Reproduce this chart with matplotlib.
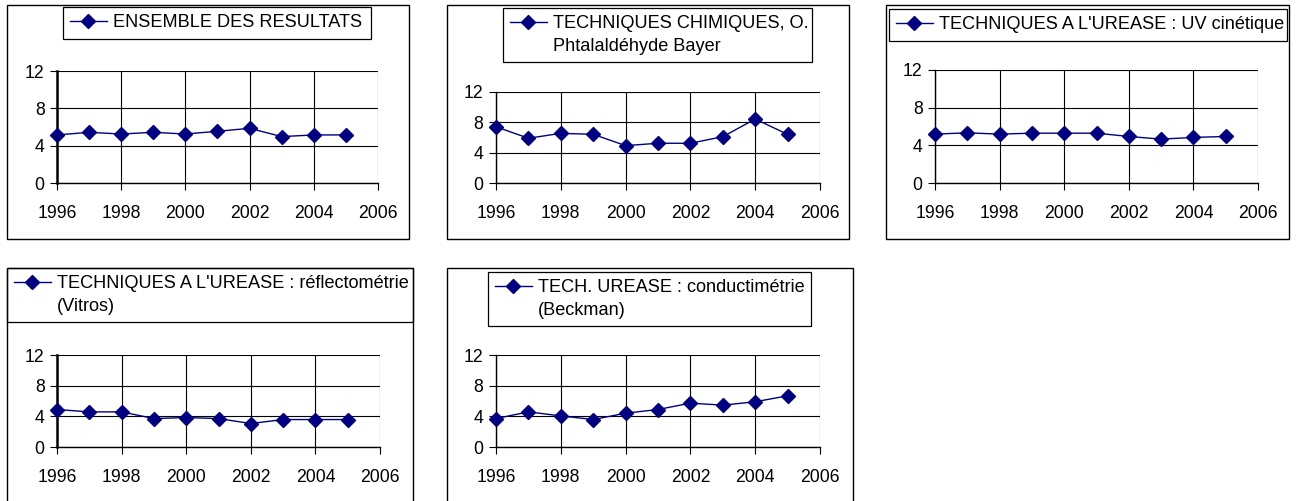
import matplotlib
matplotlib.use("Agg")
import matplotlib.pyplot as plt
from matplotlib.lines import Line2D
from matplotlib.patches import Rectangle

plt.rcParams['font.family'] = ['Liberation Sans', 'DejaVu Sans']

years = [1996, 1997, 1998, 1999, 2000, 2001, 2002, 2003, 2004, 2005]

ensemble = [5.15, 5.43, 5.25, 5.43, 5.25, 5.54, 5.86, 4.97, 5.15, 5.15]
chimiques = [7.42, 5.9, 6.55, 6.42, 4.93, 5.24, 5.24, 6.11, 8.43, 6.42]
uv_cinetique = [5.19, 5.33, 5.19, 5.29, 5.29, 5.29, 4.94, 4.66, 4.84, 4.94]
reflectometrie = [4.89, 4.58, 4.58, 3.71, 3.84, 3.71, 3.06, 3.58, 3.58, 3.58]
conductimetrie = [3.71, 4.58, 4.06, 3.58, 4.41, 4.89, 5.72, 5.46, 5.9, 6.68]

labels = [
    ["ENSEMBLE DES RESULTATS"],
    ["TECHNIQUES CHIMIQUES, O.", "Phtalaldéhyde Bayer"],
    ["TECHNIQUES A L'UREASE : UV cinétique"],
    ["TECHNIQUES A L'UREASE : réflectométrie", "(Vitros)"],
    ["TECH. UREASE : conductimétrie", "(Beckman)"],
]
series = [ensemble, chimiques, uv_cinetique, reflectometrie, conductimetrie]

x_ticks = [1996, 1998, 2000, 2002, 2004, 2006]
y_ticks = [0, 4, 8, 12]

W, H = 1298, 501
fig = plt.figure(figsize=(W / 100, H / 100), dpi=100)

# layout in pixels: frame, axes, legend box (x0, y0, x1, y1) from top-left
layout = [
    dict(frame=(7, 5, 409, 239), ax=(57, 71, 378, 183), leg=(63, 7, 371, 40), lw=1.8),
    dict(frame=(447, 5, 849, 239), ax=(496, 92, 820, 183), leg=(503, 8, 812, 62), lw=1.0),
    dict(frame=(886, 5, 1289, 239), ax=(935, 70, 1258, 183), leg=(889, 9, 1287, 40), lw=1.0),
    dict(frame=(7, 268, 413, 520), ax=(57, 355, 380, 447), leg=(7, 268, 413, 325), lw=1.8),
    dict(frame=(447, 268, 853, 520), ax=(496, 355, 820, 447), leg=(488, 272, 811, 325), lw=1.0),
]


def fx(x):
    return x / W


def fy(y):
    return 1 - y / H


navy = '#000080'

for spec, vals, lab in zip(layout, series, labels):
    x0, y0, x1, y1 = spec['frame']
    fig.patches.append(Rectangle((fx(x0), fy(y1)), fx(x1 - x0), (y1 - y0) / H,
                                 transform=fig.transFigure, fill=False,
                                 edgecolor='black', linewidth=1.0, zorder=0))
    a0, b0, a1, b1 = spec['ax']
    ax = fig.add_axes([fx(a0), fy(b1), fx(a1 - a0), (b1 - b0) / H])
    ax.plot(years, vals, color=navy, linewidth=1.0, marker='D', markersize=7.5,
            markerfacecolor=navy, markeredgecolor=navy, clip_on=False, zorder=3)
    ax.set_xlim(1996, 2006)
    ax.set_ylim(0, 12)
    ax.set_xticks(x_ticks)
    ax.set_yticks(y_ticks)
    ax.grid(True, color='black', linewidth=0.8)
    ax.set_axisbelow(True)
    for s in ['top', 'right']:
        ax.spines[s].set_visible(False)
    ax.spines['left'].set_linewidth(spec['lw'])
    ax.spines['bottom'].set_linewidth(1.0)
    ax.tick_params(axis='x', direction='out', length=5, width=0.8, pad=11, labelsize=12.7)
    ax.tick_params(axis='y', direction='out', length=5, width=0.8, pad=4, labelsize=12.7)

    l0, m0, l1, m1 = spec['leg']
    handles = [Line2D([], [], color=navy, linewidth=1.0, marker='D', markersize=7.5,
                      markerfacecolor=navy, markeredgecolor=navy)]
    for _ in lab[1:]:
        handles.append(Line2D([], [], linestyle='none', marker=None))
    leg = ax.legend(handles, lab, loc='upper left',
                    bbox_to_anchor=(fx(l0), fy(m0) - 0.0001, fx(l1 - l0), 0.0001),
                    bbox_transform=fig.transFigure, mode='expand', borderaxespad=0,
                    fontsize=13.1, frameon=True, fancybox=False, shadow=False,
                    framealpha=1, edgecolor='black', borderpad=0.4,
                    labelspacing=0.3, handlelength=2.0, handletextpad=0.35)
    leg.get_frame().set_linewidth(0.9)

fig.savefig('out.png', dpi=100)
